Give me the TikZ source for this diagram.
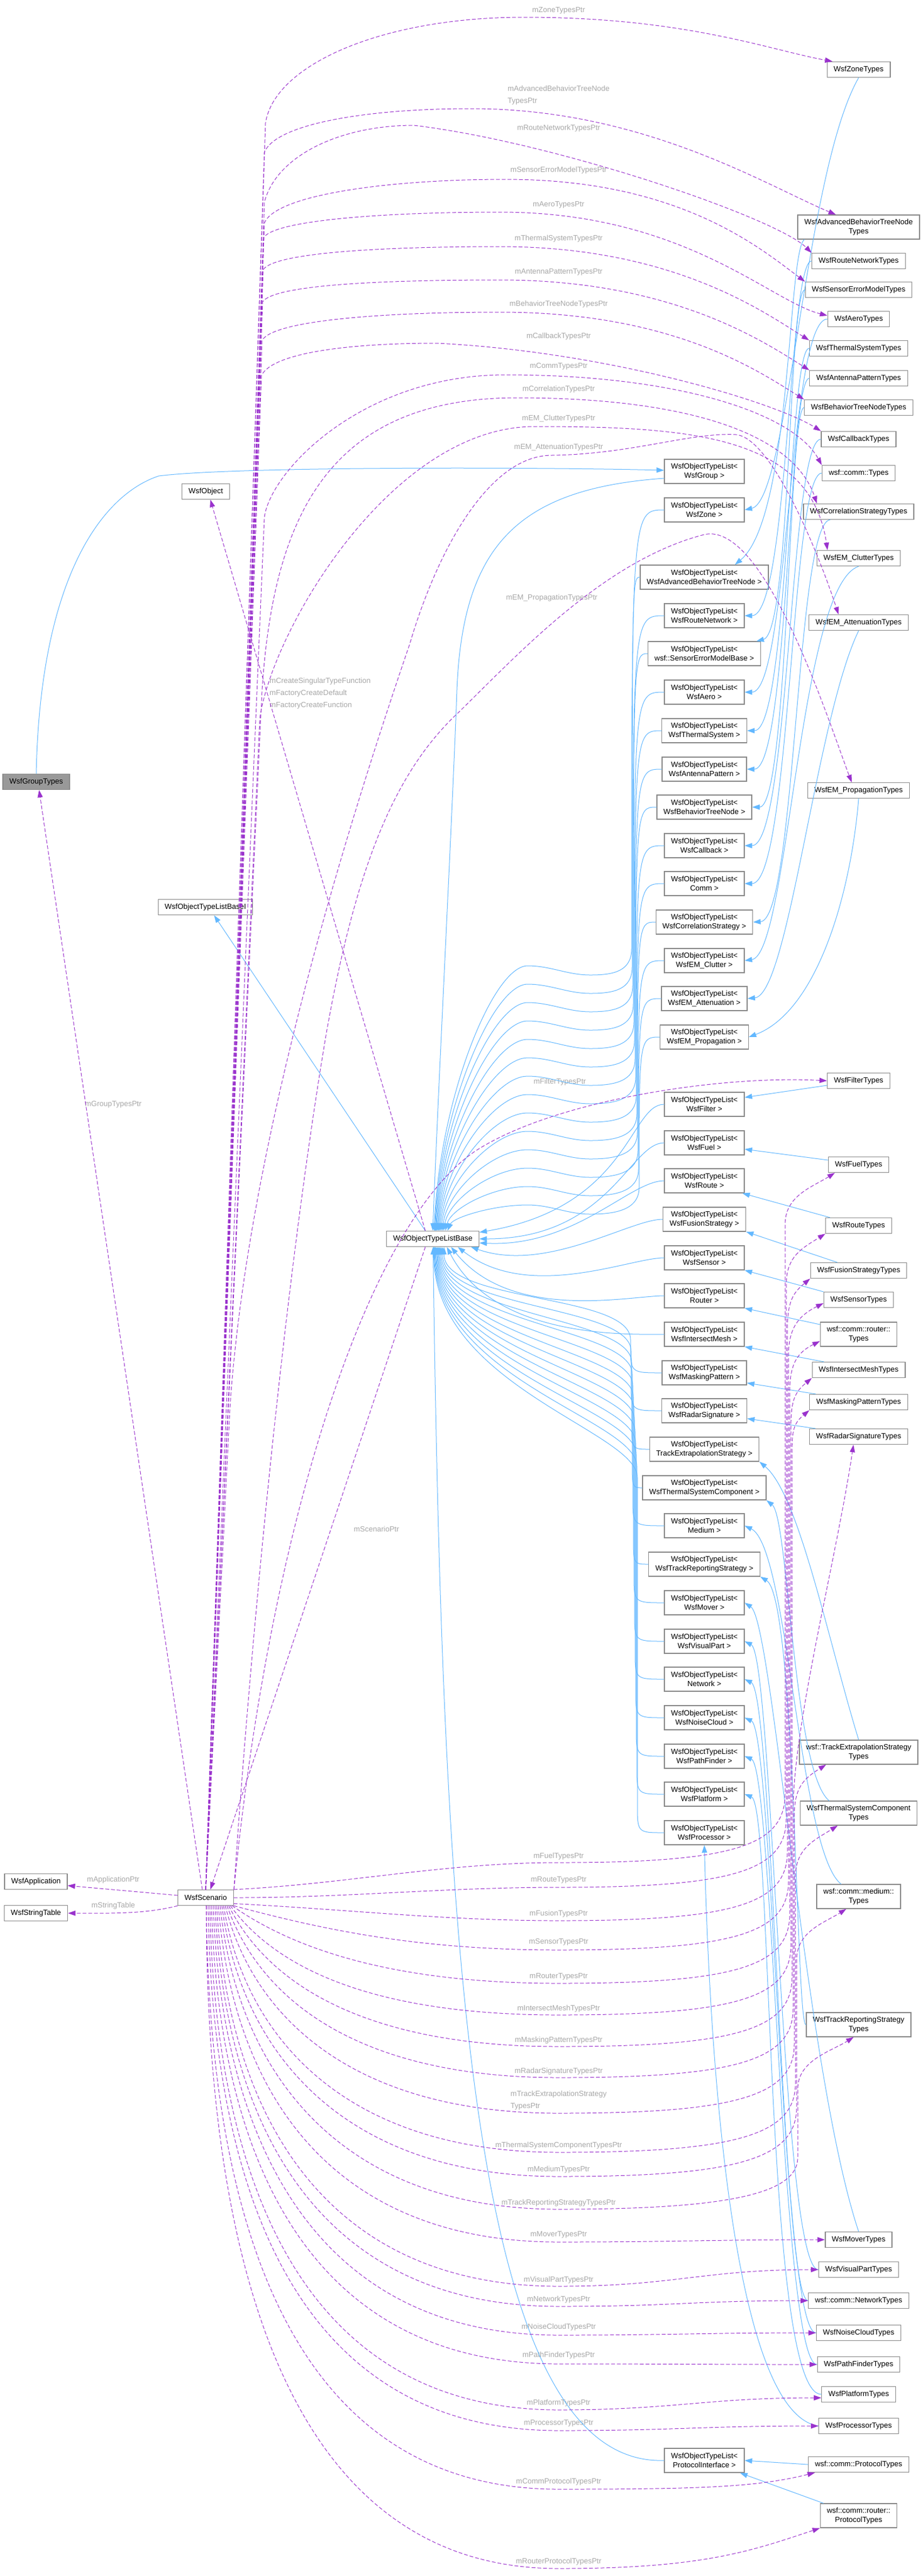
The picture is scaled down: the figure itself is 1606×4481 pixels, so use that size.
\documentclass[tikz,border=0pt]{standalone}
\usepackage{fontspec}
\setmainfont{Liberation Sans}
\usetikzlibrary{arrows.meta}
\definecolor{inhblue}{HTML}{63B8FF}
\definecolor{usepurple}{HTML}{9A32CD}
\definecolor{lblgray}{HTML}{A8A8A8}
\definecolor{boxgray}{HTML}{888888}
\definecolor{curgray}{HTML}{999999}

\begin{document}
\begin{tikzpicture}[line cap=round, x=1pt, y=1pt,
  cls/.style={draw=boxgray, line width=1.3pt, fill=white, inner xsep=11.5pt, inner ysep=0pt, minimum height=27pt, align=center, font=\fontsize{13}{15.6}\selectfont},
  cls2/.style={cls, minimum height=42pt},
  curcls/.style={cls, fill=curgray},
  inh/.style={draw=inhblue, line width=1pt, -{Triangle[length=13pt,width=9pt]}},
  usedash/.style={draw=usepurple, line width=1pt, dash pattern=on 6pt off 4pt, -{Triangle[length=13pt,width=9pt]}},
  lbl/.style={text=lblgray, inner sep=0pt, align=left, font=\fontsize{13}{21}\selectfont}]
\fill[white] (0,0) rectangle (1606,-4481);
\useasboundingbox (0,0) rectangle (1606,-4481);

% left column
\node[curcls] (grpTy) at (63,-1360) {WsfGroupTypes};
\node[cls] (obj) at (358,-855) {WsfObject};
\node[cls] (baseI) at (357.5,-1578) {WsfObjectTypeListBaseI};
\node[cls] (base) at (753,-2155) {WsfObjectTypeListBase};
\node[cls] (scen) at (358,-3301) {WsfScenario};
\node[cls] (app) at (62.5,-3273) {WsfApplication};
\node[cls] (strTab) at (62.5,-3328) {WsfStringTable};

% type lists
\node[cls2] (groupL) at (1225.5,-820) {WsfObjectTypeList<\\WsfGroup >};
\node[cls2] (zoneL) at (1225.5,-887) {WsfObjectTypeList<\\WsfZone >};
\node[cls2] (advbtL) at (1225.5,-1004) {WsfObjectTypeList<\\WsfAdvancedBehaviorTreeNode >};
\node[cls2] (rnetL) at (1225.5,-1071) {WsfObjectTypeList<\\WsfRouteNetwork >};
\node[cls2] (semL) at (1225.5,-1137) {WsfObjectTypeList<\\wsf::SensorErrorModelBase >};
\node[cls2] (aeroL) at (1225.5,-1204) {WsfObjectTypeList<\\WsfAero >};
\node[cls2] (thermL) at (1225.5,-1271) {WsfObjectTypeList<\\WsfThermalSystem >};
\node[cls2] (antL) at (1225.5,-1338) {WsfObjectTypeList<\\WsfAntennaPattern >};
\node[cls2] (btL) at (1225.5,-1404) {WsfObjectTypeList<\\WsfBehaviorTreeNode >};
\node[cls2] (cbL) at (1225.5,-1471) {WsfObjectTypeList<\\WsfCallback >};
\node[cls2] (commL) at (1225.5,-1537) {WsfObjectTypeList<\\Comm >};
\node[cls2] (corrL) at (1225.5,-1604) {WsfObjectTypeList<\\WsfCorrelationStrategy >};
\node[cls2] (clutL) at (1225.5,-1671) {WsfObjectTypeList<\\WsfEM\_Clutter >};
\node[cls2] (attL) at (1225.5,-1737) {WsfObjectTypeList<\\WsfEM\_Attenuation >};
\node[cls2] (propL) at (1225.5,-1804) {WsfObjectTypeList<\\WsfEM\_Propagation >};
\node[cls2] (filtL) at (1225.5,-1921) {WsfObjectTypeList<\\WsfFilter >};
\node[cls2] (fuelL) at (1225.5,-1988) {WsfObjectTypeList<\\WsfFuel >};
\node[cls2] (routeL) at (1225.5,-2054) {WsfObjectTypeList<\\WsfRoute >};
\node[cls2] (fusL) at (1225.5,-2121) {WsfObjectTypeList<\\WsfFusionStrategy >};
\node[cls2] (sensL) at (1225.5,-2188) {WsfObjectTypeList<\\WsfSensor >};
\node[cls2] (rtrL) at (1225.5,-2254) {WsfObjectTypeList<\\Router >};
\node[cls2] (imeshL) at (1225.5,-2321) {WsfObjectTypeList<\\WsfIntersectMesh >};
\node[cls2] (maskL) at (1225.5,-2388) {WsfObjectTypeList<\\WsfMaskingPattern >};
\node[cls2] (radarL) at (1225.5,-2454) {WsfObjectTypeList<\\WsfRadarSignature >};
\node[cls2] (textrL) at (1225.5,-2521) {WsfObjectTypeList<\\TrackExtrapolationStrategy >};
\node[cls2] (tscL) at (1225.5,-2588) {WsfObjectTypeList<\\WsfThermalSystemComponent >};
\node[cls2] (medL) at (1225.5,-2654) {WsfObjectTypeList<\\Medium >};
\node[cls2] (trsL) at (1225.5,-2721) {WsfObjectTypeList<\\WsfTrackReportingStrategy >};
\node[cls2] (moverL) at (1225.5,-2788) {WsfObjectTypeList<\\WsfMover >};
\node[cls2] (visL) at (1225.5,-2855) {WsfObjectTypeList<\\WsfVisualPart >};
\node[cls2] (netL) at (1225.5,-2921) {WsfObjectTypeList<\\Network >};
\node[cls2] (noiseL) at (1225.5,-2988) {WsfObjectTypeList<\\WsfNoiseCloud >};
\node[cls2] (pathL) at (1225.5,-3055) {WsfObjectTypeList<\\WsfPathFinder >};
\node[cls2] (platL) at (1225.5,-3121) {WsfObjectTypeList<\\WsfPlatform >};
\node[cls2] (procL) at (1225.5,-3188) {WsfObjectTypeList<\\WsfProcessor >};
\node[cls2] (protL) at (1225.5,-4280) {WsfObjectTypeList<\\ProtocolInterface >};

% types
\node[cls] (zoneTy) at (1494,-121) {WsfZoneTypes};
\node[cls2] (advbtTy) at (1494,-395) {WsfAdvancedBehaviorTreeNode\\Types};
\node[cls] (rnetTy) at (1494,-454) {WsfRouteNetworkTypes};
\node[cls] (semTy) at (1494,-504) {WsfSensorErrorModelTypes};
\node[cls] (aeroTy) at (1494,-555) {WsfAeroTypes};
\node[cls] (thermTy) at (1494,-606) {WsfThermalSystemTypes};
\node[cls] (antTy) at (1494,-658) {WsfAntennaPatternTypes};
\node[cls] (btTy) at (1494,-709) {WsfBehaviorTreeNodeTypes};
\node[cls] (cbTy) at (1494,-764) {WsfCallbackTypes};
\node[cls] (commTy) at (1494,-823) {wsf::comm::Types};
\node[cls] (corrTy) at (1494,-890) {WsfCorrelationStrategyTypes};
\node[cls] (clutTy) at (1494,-971) {WsfEM\_ClutterTypes};
\node[cls] (attTy) at (1494,-1083) {WsfEM\_AttenuationTypes};
\node[cls] (propTy) at (1494,-1375) {WsfEM\_PropagationTypes};
\node[cls] (filtTy) at (1494,-1880) {WsfFilterTypes};
\node[cls] (fuelTy) at (1494,-2026) {WsfFuelTypes};
\node[cls] (routeTy) at (1494,-2132) {WsfRouteTypes};
\node[cls] (fusTy) at (1494,-2210) {WsfFusionStrategyTypes};
\node[cls] (sensTy) at (1494,-2261) {WsfSensorTypes};
\node[cls2] (rtrTy) at (1494,-2321) {wsf::comm::router::\\Types};
\node[cls] (imeshTy) at (1494,-2383) {WsfIntersectMeshTypes};
\node[cls] (maskTy) at (1494,-2439) {WsfMaskingPatternTypes};
\node[cls] (radarTy) at (1494,-2499) {WsfRadarSignatureTypes};
\node[cls2] (textrTy) at (1494,-3048) {wsf::TrackExtrapolationStrategy\\Types};
\node[cls2] (tscTy) at (1494,-3154) {WsfThermalSystemComponent\\Types};
\node[cls2] (medTy) at (1494,-3299) {wsf::comm::medium::\\Types};
\node[cls2] (trsTy) at (1494,-3522) {WsfTrackReportingStrategy\\Types};
\node[cls] (moverTy) at (1494,-3896) {WsfMoverTypes};
\node[cls] (visTy) at (1494,-3948) {WsfVisualPartTypes};
\node[cls] (netTy) at (1494,-4002) {wsf::comm::NetworkTypes};
\node[cls] (noiseTy) at (1494,-4058) {WsfNoiseCloudTypes};
\node[cls] (pathTy) at (1494,-4113) {WsfPathFinderTypes};
\node[cls] (platTy) at (1494,-4165) {WsfPlatformTypes};
\node[cls] (procTy) at (1494,-4220) {WsfProcessorTypes};
\node[cls] (protTy) at (1494,-4287) {wsf::comm::ProtocolTypes};
\node[cls2] (rprotTy) at (1494,-4376) {wsf::comm::router::\\ProtocolTypes};

% member labels
\node[lbl] (zoneLb) at (972,-18) {mZoneTypesPtr};
\node[lbl] (advbtLb) at (972,-166) {mAdvancedBehaviorTreeNode\\TypesPtr};
\node[lbl] (rnetLb) at (972,-223) {mRouteNetworkTypesPtr};
\node[lbl] (semLb) at (972,-296) {mSensorErrorModelTypesPtr};
\node[lbl] (aeroLb) at (972,-356) {mAeroTypesPtr};
\node[lbl] (thermLb) at (972,-415) {mThermalSystemTypesPtr};
\node[lbl] (antLb) at (972,-473) {mAntennaPatternTypesPtr};
\node[lbl] (btLb) at (972,-529) {mBehaviorTreeNodeTypesPtr};
\node[lbl] (cbLb) at (972,-585) {mCallbackTypesPtr};
\node[lbl] (commLb) at (972,-637) {mCommTypesPtr};
\node[lbl] (corrLb) at (972,-677) {mCorrelationTypesPtr};
\node[lbl] (clutLb) at (972,-728) {mEM\_ClutterTypesPtr};
\node[lbl] (attLb) at (972,-778) {mEM\_AttenuationTypesPtr};
\node[lbl] (propLb) at (960,-1040) {mEM\_PropagationTypesPtr};
\node[lbl] (filtLb) at (974,-1882) {mFilterTypesPtr};
\node[lbl] (grpLb) at (197,-1921) {mGroupTypesPtr};
\node[lbl] (scenLb) at (655,-2660) {mScenarioPtr};
\node[lbl, anchor=west] (objLb) at (469,-1206) {mCreateSingularTypeFunction\\mFactoryCreateDefault\\mFactoryCreateFunction};
\node[lbl] (appLb) at (197,-3270) {mApplicationPtr};
\node[lbl] (strLb) at (197,-3315) {mStringTable};
\node[lbl] (fuelLb) at (972,-3229) {mFuelTypesPtr};
\node[lbl] (routeLb) at (972,-3270) {mRouteTypesPtr};
\node[lbl] (fusLb) at (972,-3329) {mFusionTypesPtr};
\node[lbl] (sensLb) at (972,-3378) {mSensorTypesPtr};
\node[lbl] (rtrLb) at (972,-3438) {mRouterTypesPtr};
\node[lbl] (imeshLb) at (972,-3494) {mIntersectMeshTypesPtr};
\node[lbl] (maskLb) at (972,-3549) {mMaskingPatternTypesPtr};
\node[lbl] (radarLb) at (972,-3603) {mRadarSignatureTypesPtr};
\node[lbl] (textrLb) at (972,-3654) {mTrackExtrapolationStrategy\\TypesPtr};
\node[lbl] (tscLb) at (972,-3732) {mThermalSystemComponentTypesPtr};
\node[lbl] (medLb) at (972,-3774) {mMediumTypesPtr};
\node[lbl] (trsLb) at (972,-3832) {mTrackReportingStrategyTypesPtr};
\node[lbl] (moverLb) at (972,-3887) {mMoverTypesPtr};
\node[lbl] (visLb) at (972,-3966) {mVisualPartTypesPtr};
\node[lbl] (netLb) at (972,-4000) {mNetworkTypesPtr};
\node[lbl] (noiseLb) at (972,-4048) {mNoiseCloudTypesPtr};
\node[lbl] (pathLb) at (972,-4097) {mPathFinderTypesPtr};
\node[lbl] (platLb) at (972,-4180) {mPlatformTypesPtr};
\node[lbl] (procLb) at (972,-4215) {mProcessorTypesPtr};
\node[lbl] (cprotLb) at (972,-4317) {mCommProtocolTypesPtr};
\node[lbl] (rprotLb) at (972,-4456) {mRouterProtocolTypesPtr};

% base classes
\draw[inh] ([xshift=-13pt]base.north) -- ([xshift=15pt]baseI.south);
\draw[inh] (grpTy.north) .. controls (70,-1000) and (180,-860) .. (276,-828) .. controls (400,-812) and (900,-812) .. ([yshift=2pt]groupL.west);
\draw[inh] ([yshift=-12pt]groupL.west) .. controls (900,-850) and (805,-950) .. (795,-1200) .. controls (788,-1400) and (762,-1900) .. (base.north);

% lists -> base, upper ones
\draw[inh] (zoneL.west) .. controls (1099,-887) .. (1099,-1650) .. controls +(0,-40) and +(40,0) .. (1027,-1696) .. controls +(-40,0) and +(40,0) .. (918,-1680) .. controls +(-60,0) and +(10,231) .. (base.81);
\draw[inh] (advbtL.west) .. controls (1100,-1004) .. (1100,-1682) .. controls +(0,-40) and +(40,0) .. (1027,-1728) .. controls +(-40,0) and +(40,0) .. (918,-1712) .. controls +(-60,0) and +(10,215) .. (base.77);
\draw[inh] (rnetL.west) .. controls (1101,-1071) .. (1101,-1714) .. controls +(0,-40) and +(40,0) .. (1027,-1760) .. controls +(-40,0) and +(40,0) .. (918,-1744) .. controls +(-60,0) and +(10,199) .. (base.73);
\draw[inh] (semL.west) .. controls (1102,-1137) .. (1102,-1746) .. controls +(0,-40) and +(40,0) .. (1027,-1792) .. controls +(-40,0) and +(40,0) .. (918,-1776) .. controls +(-60,0) and +(10,183) .. (base.69);
\draw[inh] (aeroL.west) .. controls (1103,-1204) .. (1103,-1778) .. controls +(0,-40) and +(40,0) .. (1027,-1824) .. controls +(-40,0) and +(40,0) .. (918,-1808) .. controls +(-60,0) and +(10,167) .. (base.65);
\draw[inh] (thermL.west) .. controls (1104,-1271) .. (1104,-1810) .. controls +(0,-40) and +(40,0) .. (1027,-1856) .. controls +(-40,0) and +(40,0) .. (918,-1840) .. controls +(-60,0) and +(10,151) .. (base.61);
\draw[inh] (antL.west) .. controls (1105,-1338) .. (1105,-1842) .. controls +(0,-40) and +(40,0) .. (1027,-1888) .. controls +(-40,0) and +(40,0) .. (918,-1872) .. controls +(-60,0) and +(10,135) .. (base.57);
\draw[inh] (btL.west) .. controls (1106,-1404) .. (1106,-1874) .. controls +(0,-40) and +(40,0) .. (1027,-1920) .. controls +(-40,0) and +(40,0) .. (918,-1904) .. controls +(-60,0) and +(10,119) .. (base.53);
\draw[inh] (cbL.west) .. controls (1107,-1471) .. (1107,-1906) .. controls +(0,-40) and +(40,0) .. (1027,-1952) .. controls +(-40,0) and +(40,0) .. (918,-1936) .. controls +(-60,0) and +(10,103) .. (base.49);
\draw[inh] (commL.west) .. controls (1108,-1537) .. (1108,-1938) .. controls +(0,-40) and +(40,0) .. (1027,-1984) .. controls +(-40,0) and +(40,0) .. (918,-1968) .. controls +(-60,0) and +(10,87) .. (base.45);
\draw[inh] (corrL.west) .. controls (1109,-1604) .. (1109,-1970) .. controls +(0,-40) and +(40,0) .. (1027,-2016) .. controls +(-40,0) and +(40,0) .. (918,-2000) .. controls +(-60,0) and +(10,71) .. (base.41);
\draw[inh] (clutL.west) .. controls (1110,-1671) .. (1110,-2002) .. controls +(0,-40) and +(40,0) .. (1027,-2048) .. controls +(-40,0) and +(40,0) .. (918,-2032) .. controls +(-60,0) and +(10,55) .. (base.37);
\draw[inh] (attL.west) .. controls (1111,-1737) .. (1111,-2034) .. controls +(0,-40) and +(40,0) .. (1027,-2080) .. controls +(-40,0) and +(40,0) .. (918,-2064) .. controls +(-60,0) and +(10,39) .. (base.33);
\draw[inh] (propL.west) .. controls (1112,-1804) .. (1112,-2066) .. controls +(0,-40) and +(40,0) .. (1027,-2112) .. controls +(-40,0) and +(40,0) .. (918,-2096) .. controls +(-60,0) and +(10,23) .. (base.29);

% lists -> base, lower ones
\draw[inh] (filtL.west) .. controls (1096,-1921) and (1094,-2100) .. (base.8);
\draw[inh] (fuelL.west) .. controls (1096,-1988) and (1060,-2155) .. (base.east);
\draw[inh] (routeL.west) .. controls (1096,-2054) and (1000,-2170) .. (base.-5);
\draw[inh] (fusL.west) .. controls (1096,-2121) and (950,-2215) .. (base.-12);
\draw[inh] (sensL.west) .. controls (1096,-2188) and (920,-2265) .. (base.-18);
\draw[inh] (rtrL.west) .. controls (1096,-2254) and (890,-2300) .. (base.-24);
\draw[inh] (imeshL.west) .. controls (1096,-2321) and (860,-2330) .. (base.-30);
\draw[inh] (maskL.west) .. controls (1097,-2388) .. (1097,-2338) -- (1097,-2330) .. controls +(0,80) and +(0,-97) .. (base.-36);
\draw[inh] (radarL.west) .. controls (1098,-2454) .. (1098,-2404) -- (1098,-2350) .. controls +(0,80) and +(0,-109) .. (base.-40);
\draw[inh] (textrL.west) .. controls (1099,-2521) .. (1099,-2471) -- (1099,-2370) .. controls +(0,80) and +(0,-121) .. (base.-44);
\draw[inh] (tscL.west) .. controls (1100,-2588) .. (1100,-2538) -- (1100,-2390) .. controls +(0,80) and +(0,-133) .. (base.-48);
\draw[inh] (medL.west) .. controls (1101,-2654) .. (1101,-2604) -- (1101,-2410) .. controls +(0,80) and +(0,-145) .. (base.-52);
\draw[inh] (trsL.west) .. controls (1102,-2721) .. (1102,-2671) -- (1102,-2430) .. controls +(0,80) and +(0,-157) .. (base.-56);
\draw[inh] (moverL.west) .. controls (1103,-2788) .. (1103,-2738) -- (1103,-2450) .. controls +(0,80) and +(0,-169) .. (base.-60);
\draw[inh] (visL.west) .. controls (1104,-2855) .. (1104,-2805) -- (1104,-2470) .. controls +(0,80) and +(0,-181) .. (base.-64);
\draw[inh] (netL.west) .. controls (1105,-2921) .. (1105,-2871) -- (1105,-2490) .. controls +(0,80) and +(0,-193) .. (base.-68);
\draw[inh] (noiseL.west) .. controls (1106,-2988) .. (1106,-2938) -- (1106,-2510) .. controls +(0,80) and +(0,-205) .. (base.-72);
\draw[inh] (pathL.west) .. controls (1107,-3055) .. (1107,-3005) -- (1107,-2530) .. controls +(0,80) and +(0,-217) .. (base.-76);
\draw[inh] (platL.west) .. controls (1108,-3121) .. (1108,-3071) -- (1108,-2550) .. controls +(0,80) and +(0,-229) .. (base.-80);
\draw[inh] (procL.west) .. controls (1109,-3188) .. (1109,-3138) -- (1109,-2570) .. controls +(0,80) and +(0,-241) .. (base.-84);
\draw[inh] (protL.west) .. controls (820,-4290) and (770,-3400) .. (base.-88);

% types -> lists
\draw[inh] (zoneTy.south) .. controls (1400,-300) and (1372,-870) .. (zoneL.east);
\draw[inh] ([xshift=12pt]advbtTy.south west) .. controls (1370,-440) and (1378,-900) .. ([xshift=-59pt]advbtL.north east);
\draw[inh] (rnetTy.west) .. controls (1372,-454) and (1372,-1071) .. (rnetL.east);
\draw[inh] (semTy.west) .. controls (1372,-504) and (1376,-1100) .. ([xshift=-8pt]semL.north east);
\draw[inh] (aeroTy.west) .. controls (1372,-555) and (1372,-1204) .. (aeroL.east);
\draw[inh] (thermTy.west) .. controls (1372,-606) and (1372,-1271) .. (thermL.east);
\draw[inh] (antTy.west) .. controls (1372,-658) and (1372,-1338) .. (antL.east);
\draw[inh] (btTy.west) .. controls (1372,-709) and (1372,-1404) .. (btL.east);
\draw[inh] (cbTy.west) .. controls (1374,-764) and (1374,-1471) .. (cbL.east);
\draw[inh] (commTy.west) .. controls (1376,-823) and (1376,-1537) .. (commL.east);
\draw[inh] ([xshift=47pt]corrTy.south west) .. controls (1385,-910) and (1385,-1600) .. (corrL.east);
\draw[inh] (clutTy.south) .. controls (1390,-1020) and (1372,-1660) .. (clutL.east);
\draw[inh] (attTy.south) .. controls (1420,-1250) and (1372,-1730) .. (attL.east);
\draw[inh] (propTy.south) .. controls (1480,-1560) and (1420,-1760) .. (propL.east);
\draw[inh] ([yshift=-8pt]filtTy.west) -- ([yshift=12pt]filtL.east);
\draw[inh] ([yshift=8pt]fuelTy.west) -- ([yshift=-11pt]fuelL.east);
\draw[inh] ([xshift=8pt]routeTy.north west) -- ([xshift=-4pt]routeL.south east);
\draw[inh] ([xshift=47pt]fusTy.north west) -- (fusL.south east);
\draw[inh] ([yshift=14pt]sensTy.west) -- (sensL.south east);
\draw[inh] ([yshift=17pt]rtrTy.west) -- (rtrL.south east);
\draw[inh] ([xshift=21pt]imeshTy.north west) -- (imeshL.south east);
\draw[inh] ([xshift=11pt]maskTy.north west) -- ([yshift=4pt]maskL.south east);
\draw[inh] ([xshift=11pt]radarTy.north west) -- ([yshift=8pt]radarL.south east);
\draw[inh] (textrTy.north) .. controls (1440,-2850) and (1390,-2600) .. (textrL.south east);
\draw[inh] ([xshift=51pt]tscTy.north west) .. controls (1380,-3080) and (1372,-2640) .. (tscL.south east);
\draw[inh] ([xshift=43pt]medTy.north west) .. controls (1390,-3220) and (1372,-2690) .. (medL.east);
\draw[inh] (trsTy.west) .. controls (1385,-3525) and (1385,-2780) .. (trsL.south east);
\draw[inh] (moverTy.north) .. controls (1400,-3600) and (1345,-2820) .. (moverL.east);
\draw[inh] (visTy.west) .. controls (1360,-3948) and (1345,-2880) .. (visL.east);
\draw[inh] (netTy.west) .. controls (1360,-4002) and (1345,-2945) .. (netL.east);
\draw[inh] (noiseTy.west) .. controls (1360,-4058) and (1345,-3010) .. (noiseL.east);
\draw[inh] (pathTy.west) .. controls (1360,-4113) and (1345,-3075) .. (pathL.east);
\draw[inh] (platTy.west) .. controls (1330,-4165) and (1345,-3140) .. (platL.east);
\draw[inh] (procTy.west) .. controls (1290,-4200) and (1238,-3700) .. (procL.south);
\draw[inh] (protTy.west) -- (protL.east);
\draw[inh] ([xshift=6pt]rprotTy.north west) -- ([xshift=-8pt]protL.south east);

% members of the base and of the scenario
\draw[usedash] ([xshift=-13pt]base.north) -- ([xshift=8pt]obj.south);
\draw[usedash] ([xshift=-13pt]base.south) -- ([xshift=8pt]scen.north);
\draw[usedash] ([xshift=-6pt]scen.north) -- ([xshift=5pt]grpTy.south);
\draw[usedash] ([yshift=4pt]scen.west) -- ([yshift=-7pt]app.east);
\draw[usedash] (scen.south west) .. controls (250,-3330) and (190,-3328) .. (strTab.east);

\draw[usedash] (scen.north) -- (462,-214) .. controls +(15,100) and +(-250,0) .. (912,-30) .. controls +(280,0) and +(-110,20) .. ([xshift=10pt]zoneTy.north west); % zone
\draw[usedash] (scen.north) -- (460,-265) .. controls +(20,50) and +(-180,0) .. (820,-189) .. controls +(300,0) and +(-120,50) .. ([xshift=67pt]advbtTy.north west);
\draw[usedash] (scen.north) -- (460,-352) .. controls +(20,80) and +(-130,0) .. (720,-218) .. controls +(250,-30) and +(-60,60) .. (rnetTy.north west);
\draw[usedash] (scen.north) -- (460,-388) .. controls +(20,50) and +(-200,0) .. (880,-312) .. controls +(300,0) and +(-80,60) .. (semTy.north west);
\draw[usedash] (scen.north) -- (459,-413) .. controls +(20,30) and +(-200,0) .. (870,-369) .. controls +(320,0) and +(-100,25) .. ([yshift=6pt]aeroTy.west);
\draw[usedash] (scen.north) -- (458,-469) .. controls +(20,30) and +(-200,0) .. (870,-429) .. controls +(300,0) and +(-80,50) .. (thermTy.north west);
\draw[usedash] (scen.north) -- (457,-525) .. controls +(20,30) and +(-200,0) .. (870,-487) .. controls +(300,0) and +(-80,50) .. (antTy.north west);
\draw[usedash] (scen.north) -- (456,-592) .. controls +(20,35) and +(-200,0) .. (870,-543) .. controls +(300,0) and +(-80,50) .. (btTy.north west);
\draw[usedash] (scen.north) -- (455,-653) .. controls +(20,40) and +(-150,0) .. (760,-597) .. controls +(300,-15) and +(-80,50) .. (cbTy.north west);
\draw[usedash] (scen.north) -- (460,-900) .. controls +(10,80) and +(-250,0) .. (880,-652) .. controls +(300,0) and +(-50,90) .. (commTy.north west);
\draw[usedash] (scen.north) -- (456,-1200) .. controls +(20,300) and +(-330,0) .. (900,-692) .. controls +(300,0) and +(-40,120) .. ([xshift=24pt]corrTy.north west);
\draw[usedash] (scen.north) -- (452,-1250) .. controls +(20,150) and +(-250,0) .. (930,-742) .. controls +(270,0) and +(-30,200) .. ([xshift=19pt]clutTy.north west);
\draw[usedash] (scen.north) -- (400,-2450) .. controls (430,-2000) and (600,-1450) .. (713,-1120) .. controls (760,-960) and (850,-792) .. (960,-792) .. controls (1100,-790) and (1200,-752) .. (1280,-756) .. controls (1340,-760) and (1420,-950) .. ([xshift=52pt]attTy.north west);
\draw[usedash] (scen.north east) .. controls (440,-2800) and (500,-2200) .. (567,-1802) .. controls (620,-1500) and (690,-1340) .. (797,-1240) .. controls (900,-1140) and (1050,-975) .. (1225,-930) .. controls (1330,-905) and (1440,-1250) .. ([xshift=77pt]propTy.north west); % propagation
\draw[usedash] (scen.north east) .. controls (470,-2650) and (640,-2130) .. (826,-2003) .. controls (960,-1915) and (1250,-1870) .. (filtTy.west); % filter

\draw[usedash] (scen.north east) .. controls +(200,10) and +(-200,0) .. (972,-3240) .. controls +(308,0) and +(0,-90) .. (1366,-3120) -- (1366,-2130) .. controls +(0,50) and +(-40,-25) .. ([xshift=12pt]fuelTy.south west);
\draw[usedash] (scen.east) .. controls +(200,0) and +(-200,0) .. (972,-3283) .. controls +(308,0) and +(0,-90) .. (1368,-3163) -- (1368,-2235) .. controls +(0,50) and +(-40,-25) .. (routeTy.south west);
\draw[usedash] (scen.-12) .. controls +(200,-10) and +(-200,0) .. (972,-3341) .. controls +(308,0) and +(0,-90) .. (1370,-3221) -- (1370,-2314) .. controls +(0,50) and +(-30,-25) .. (fusTy.south west);
\draw[usedash] (scen.south east) .. controls +(150,-40) and +(-250,0) .. (972,-3392) .. controls +(308,0) and +(0,-90) .. (1372,-3272) -- (1372,-2357) .. controls +(0,50) and +(-40,-20) .. ([yshift=-6pt]sensTy.west);
\draw[usedash] ([xshift=-3pt]scen.south east) .. controls +(100,-70) and +(-300,0) .. (972,-3450) .. controls +(308,0) and +(0,-90) .. (1374,-3330) -- (1374,-2423) .. controls +(0,50) and +(-40,-20) .. ([yshift=-12pt]rtrTy.west);
\draw[usedash] ([xshift=-6pt]scen.south east) .. controls +(80,-110) and +(-320,0) .. (972,-3505) .. controls +(308,0) and +(0,-90) .. (1376,-3385) -- (1376,-2486) .. controls +(0,50) and +(-30,-25) .. (imeshTy.south west);
\draw[usedash] ([xshift=-9pt]scen.south east) .. controls +(70,-140) and +(-330,0) .. (972,-3560) .. controls +(308,0) and +(0,-90) .. (1378,-3440) -- (1378,-2542) .. controls +(0,50) and +(-30,-25) .. (maskTy.south west);
\draw[usedash] ([xshift=-12pt]scen.south east) .. controls +(60,-170) and +(-340,0) .. (972,-3614) .. controls +(308,0) and +(0,-90) .. (1380,-3494) -- (1380,-3150) .. controls +(0,150) and +(-30,-200) .. ([xshift=-9pt]radarTy.south);
\draw[usedash] ([xshift=-15pt]scen.south east) .. controls +(50,-200) and +(-350,0) .. (972,-3676) .. controls +(308,0) and +(0,-90) .. (1382,-3556) -- (1382,-3160) .. controls +(0,50) and +(-40,-25) .. ([xshift=47pt]textrTy.south west);
\draw[usedash] ([xshift=-18pt]scen.south east) .. controls +(40,-240) and +(-360,0) .. (972,-3744) .. controls +(308,0) and +(0,-90) .. (1384,-3624) -- (1384,-3265) .. controls +(0,50) and +(-40,-25) .. ([xshift=66pt]tscTy.south west);
\draw[usedash] ([xshift=-21pt]scen.south east) .. controls +(35,-260) and +(-370,0) .. (972,-3786) .. controls +(308,0) and +(0,-90) .. (1386,-3666) -- (1386,-3410) .. controls +(0,50) and +(-40,-25) .. ([xshift=52pt]medTy.south west);
\draw[usedash] ([xshift=-24pt]scen.south east) .. controls +(30,-290) and +(-380,0) .. (972,-3843) .. controls +(308,0) and +(0,-60) .. (1388,-3753) -- (1388,-3634) .. controls +(0,50) and +(-40,-25) .. ([xshift=83pt]trsTy.south west);
\draw[usedash] ([xshift=-27pt]scen.south east) .. controls +(25,-320) and +(-400,0) .. (972,-3900) .. controls +(200,0) and +(-200,0) .. (moverTy.west);
\draw[usedash] ([xshift=-30pt]scen.south east) .. controls +(20,-360) and +(-410,0) .. (972,-3977) .. controls +(200,0) and +(-200,0) .. (visTy.west);
\draw[usedash] ([xshift=-33pt]scen.south east) .. controls +(18,-380) and +(-420,0) .. (972,-4012) .. controls +(200,0) and +(-200,0) .. (netTy.west);
\draw[usedash] ([xshift=-36pt]scen.south east) .. controls +(15,-400) and +(-430,0) .. (972,-4062) .. controls +(200,0) and +(-200,0) .. (noiseTy.west);
\draw[usedash] ([xshift=-39pt]scen.south east) .. controls +(12,-430) and +(-440,0) .. (972,-4112) .. controls +(200,0) and +(-200,0) .. (pathTy.west);
\draw[usedash] ([xshift=-42pt]scen.south east) .. controls +(10,-470) and +(-450,0) .. (972,-4192) .. controls +(200,0) and +(-200,0) .. ([yshift=-6pt]platTy.west);
\draw[usedash] ([xshift=-45pt]scen.south east) .. controls +(8,-490) and +(-460,0) .. (972,-4228) .. controls +(200,0) and +(-200,0) .. (procTy.west);
\draw[usedash] ([xshift=-48pt]scen.south east) .. controls +(5,-540) and +(-470,0) .. (972,-4330) .. controls +(250,0) and +(-100,-25) .. ([xshift=12pt]protTy.south west);
\draw[usedash] ([xshift=-48pt]scen.south east) .. controls +(0,-600) and +(-480,0) .. (972,-4468) .. controls +(250,0) and +(-120,-40) .. (rprotTy.south west);
\end{tikzpicture}
\end{document}
